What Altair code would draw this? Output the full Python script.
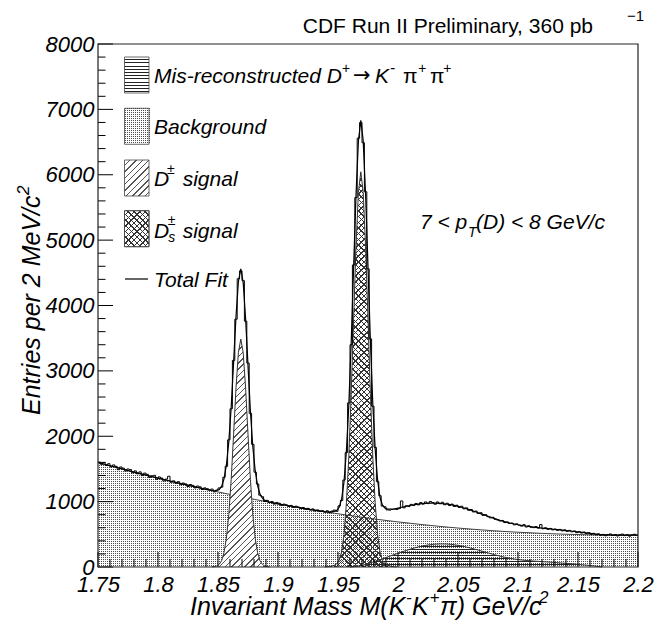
import altair as alt
import pandas as pd

# ---------------- data ----------------
# observed entries per 2 MeV/c^2 bin; first bin starts at 1.750 GeV/c^2
hist_start = 1.750
hist_step = 0.002
hist_counts = [
    1605, 1570, 1598, 1552, 1580, 1531, 1561, 1540, 1489, 1530,
    1512, 1468, 1499, 1490, 1440, 1470, 1425, 1455, 1398, 1436,
    1418, 1370, 1395, 1402, 1341, 1378, 1360, 1316, 1345, 1388,
    1296, 1318, 1280, 1305, 1259, 1284, 1271, 1232, 1262, 1248,
    1210, 1239, 1226, 1186, 1210, 1198, 1180,
    1192, 1150, 1178, 1209, 1221, 1372, 1540, 1945, 2420, 3160, 3790, 4410, 4530,
    4380, 3760, 3120, 2350, 1875, 1450, 1270, 1098, 1075, 1002, 1020, 985,
    1001, 962, 985, 975, 941, 962, 951, 925, 942, 910, 930, 918, 893, 910, 882,
    897, 871, 888, 858, 873, 848, 862,
    838, 860, 829, 855, 871, 852, 935, 1018, 1330, 1750, 2510, 3400, 4620, 5650, 6560,
    6800, 6490, 5740, 4560, 3490, 2460, 1830, 1305, 1090, 932, 921, 874, 870, 880, 882, 880,
    893, 1010, 905, 938, 925, 958, 940, 972, 950, 985,
    962, 995, 970, 1002, 985, 960, 995, 968, 990, 952,
    975, 940, 962, 925, 945, 912, 930, 890, 905, 868,
    880, 842, 855, 818, 830, 790, 800, 770, 752, 760,
    730, 720, 705, 712, 680, 690, 665, 672, 645, 660,
    640, 625, 648, 612, 630, 608, 602, 618, 595, 648,
    585, 600, 576, 590, 568, 580, 560, 575, 552, 568,
    545, 560, 538, 552, 525, 540, 520, 535, 512, 525,
    500, 515, 492, 508, 485, 498, 478, 495, 505, 482,
    496, 475, 492, 503, 480, 494, 472, 490, 501, 485,
]

# background component, every 10 MeV from 1.75
bg_start, bg_step = 1.75, 0.01
bg_vals = [1598, 1549, 1500, 1452, 1405, 1359, 1315, 1271, 1229, 1188,
           1148, 1110, 1072, 1036, 1001, 966, 933, 901, 871, 842,
           814, 787, 761, 736, 712, 690, 669, 649, 630, 612,
           596, 581, 567, 554, 542, 532, 523, 514, 507, 501,
           496, 492, 490, 489, 488, 489]

# mis-reconstructed D+ -> K- pi+ pi+, every 5 MeV from 1.960
mis_start, mis_step = 1.960, 0.005
mis_vals = [0, 8, 25, 50, 80, 112, 145, 178, 210, 242,
            272, 298, 320, 337, 348, 353, 352, 345, 332, 314,
            292, 268, 242, 216, 190, 166, 145, 128, 114, 103,
            95, 88, 82, 76, 70, 63, 56, 48, 40, 32,
            23, 12, 0]

# D+- signal, every 2 MeV from 1.845
dp_start, dp_step = 1.845, 0.002
dp_vals = [2, 6, 14, 40, 95, 220, 440, 800, 1340, 2030, 2740, 3280, 3486,
           3280, 2740, 2030, 1340, 800, 440, 220, 95, 40, 14, 6, 2]

# Ds+- signal, every 2 MeV from 1.939
ds_start, ds_step = 1.939, 0.002
ds_vals = [2, 4, 8, 15, 28, 50, 105, 230, 500, 980, 1680, 2650, 3790, 4900, 5730, 6045,
           5730, 4900, 3790, 2650, 1680, 980, 500, 230, 105, 50, 28, 15, 8, 4, 2]

# total fit, read in segments
fit_seg_a = [1598, 1549, 1500, 1452, 1405, 1359, 1315, 1271, 1229, 1188]           # 1.75..1.84 /0.01
fit_seg_b = [1170, 1166, 1166, 1184, 1232, 1349, 1561, 1914, 2446, 3129, 3831, 4364, 4562,
             4349, 3802, 3084, 2387, 1840, 1473, 1246, 1114, 1052, 1019, 1004, 993]  # 1.845../0.002
fit_seg_c = [966, 933, 901, 871]                                                    # 1.90..1.93 /0.01
fit_seg_d = [847, 843, 842, 843, 850, 867, 916, 1036, 1300, 1775, 2470, 3436, 4574, 5682,
             6514, 6831, 6524, 5694, 4589, 3456, 2493, 1800, 1328, 1066, 949, 902, 890,
             885, 887, 891, 898]                                                    # 1.939../0.002
fit_seg_e = [922, 941, 957, 969, 977, 978, 974, 964, 949, 928,
             903, 873, 842, 809, 777, 744, 714, 687, 665, 646,
             631, 618, 607, 596, 587, 577, 567, 557, 547, 536,
             526, 515, 503, 490, 490, 489, 489, 488, 488, 489]                      # 2.005../0.005

x_major = [1.75, 1.8, 1.85, 1.9, 1.95, 2.0, 2.05, 2.1, 2.15, 2.2]
y_major = [0, 1000, 2000, 3000, 4000, 5000, 6000, 7000, 8000]

# ---------------- tables ----------------
def grid(start, step, vals):
    return pd.DataFrame({"m": [round(start + step * k, 4) for k in range(len(vals))], "v": vals})

hist_df = pd.DataFrame({
    "m": [round(hist_start + hist_step * k, 4) for k in range(len(hist_counts))] + [2.2],
    "v": hist_counts + [hist_counts[-1]],
})
bg_df = grid(bg_start, bg_step, bg_vals)
mis_df = grid(mis_start, mis_step, mis_vals)
dp_df = grid(dp_start, dp_step, dp_vals)
ds_df = grid(ds_start, ds_step, ds_vals)
fit_df = pd.concat([
    grid(1.75, 0.01, fit_seg_a), grid(1.845, 0.002, fit_seg_b), grid(1.90, 0.01, fit_seg_c),
    grid(1.939, 0.002, fit_seg_d), grid(2.005, 0.005, fit_seg_e)], ignore_index=True)

x_minor = [round(1.75 + 0.01 * k, 2) for k in range(46) if k % 5]
y_minor = [200 * k for k in range(41) if k % 5]

# ---------------- styling helpers ----------------
W, H = 540, 523
XMIN, XMAX, YMAX = 1.75, 2.2, 8000
FONT = "Liberation Sans"
CLEAR = "rgba(0,0,0,0)"


def hatch(period, lw, span, color, base, x1, y1, x2, y2):
    stops = []
    k = 0
    while k * period < span - 1e-9:
        a = k * period / span
        b = min((k * period + period - lw) / span, 1.0)
        c = min((k + 1) * period / span, 1.0)
        stops += [{"offset": round(a, 6), "color": base}, {"offset": round(b, 6), "color": base},
                  {"offset": round(b, 6), "color": color}, {"offset": round(c, 6), "color": color}]
        k += 1
    return {"gradient": "linear", "x1": x1, "y1": y1, "x2": x2, "y2": y2, "stops": stops}


def diag(w, h, period, lw, color, base, slash=True):
    r = w / h
    dy = (1 + r) / (1 + r * r)
    dx = r * dy
    span = (w + h) / 2 ** 0.5
    if slash:
        return hatch(period, lw, span, color, base, 0, 0, round(dx, 5), round(dy, 5))
    return hatch(period, lw, span, color, base, 0, 1, round(dx, 5), round(1 - dy, 5))


def horiz(h, period, lw, color, base):
    return hatch(period, lw, h, color, base, 0, 0, 0, 1)


def vert(w, period, lw, color, base):
    return hatch(period, lw, w, color, base, 0, 0, 1, 0)


def px_w(df):
    return (df["m"].max() - df["m"].min()) / (XMAX - XMIN) * W


def px_h(df):
    return df["v"].max() / YMAX * H


DOT = "#4a4a4a"
xs = alt.Scale(domain=[XMIN, XMAX], nice=False, zero=False)
ys = alt.Scale(domain=[0, YMAX], nice=False, zero=True)
xaxis = alt.Axis(values=x_major, format="~g", title=None, ticks=False, tickSize=0, domain=False,
                 grid=False, labelFont=FONT, labelFontSize=22, labelFontStyle="italic",
                 labelColor="black", labelPadding=7, labelFlush=False, labelOverlap=False)
yaxis = alt.Axis(values=y_major, format="d", title=None, ticks=False, tickSize=0, domain=False,
                 grid=False, labelFont=FONT, labelFontSize=22, labelFontStyle="italic",
                 labelColor="black", labelPadding=4, labelOverlap=False)


def X(f):
    return alt.X(f, type="quantitative", scale=xs, axis=xaxis)


def Y(f):
    return alt.Y(f, type="quantitative", scale=ys, axis=yaxis)


one = pd.DataFrame({"k": [0]})


def T(text, x, y, size=21, italic=True, align="left", angle=0, font=FONT):
    kw = dict(text=text, font=font, fontSize=size, fontStyle="italic" if italic else "normal",
              align=align, baseline="alphabetic", color="black")
    if angle:
        kw["angle"] = angle
    return alt.Chart(one).mark_text(**kw).encode(x=alt.value(x), y=alt.value(y))


def swatch(x0, x1, y0, y1, fill, stroke=True):
    kw = dict(fill=fill)
    if stroke:
        kw.update(stroke="#444", strokeWidth=0.8)
    else:
        kw.update(strokeWidth=0)
    return alt.Chart(one).mark_rect(**kw).encode(
        x=alt.value(x0), x2=alt.value(x1), y=alt.value(y0), y2=alt.value(y1))


layers = []
# background: dotted pattern = dark columns masked by white rows
bg_w, bg_h = px_w(bg_df), px_h(bg_df)
layers.append(alt.Chart(bg_df).mark_area(color=vert(bg_w, 2, 1, DOT, "#ffffff"), opacity=1)
              .encode(x=X("m"), y=Y("v")))
layers.append(alt.Chart(bg_df).mark_area(color=horiz(bg_h, 2, 1, "#ffffff", CLEAR), opacity=1,
              line={"color": "#444", "strokeWidth": 1}).encode(x=X("m"), y=Y("v")))
# mis-reconstructed (horizontal lines)
layers.append(alt.Chart(mis_df).mark_area(color=horiz(px_h(mis_df), 3, 1, "#222", CLEAR), opacity=1,
              line={"color": "#333", "strokeWidth": 1}).encode(x=X("m"), y=Y("v")))
# D+- (single hatch)
layers.append(alt.Chart(dp_df).mark_area(color=diag(px_w(dp_df), px_h(dp_df), 4.5, 1, "#555", "#ffffff"),
              opacity=1, line={"color": "#333", "strokeWidth": 1}).encode(x=X("m"), y=Y("v")))
# Ds+- (cross hatch)
layers.append(alt.Chart(ds_df).mark_area(color=diag(px_w(ds_df), px_h(ds_df), 4, 1, "#333", CLEAR),
              opacity=1).encode(x=X("m"), y=Y("v")))
layers.append(alt.Chart(ds_df).mark_area(color=diag(px_w(ds_df), px_h(ds_df), 4, 1, "#333", CLEAR, slash=False),
              opacity=1, line={"color": "#333", "strokeWidth": 1}).encode(x=X("m"), y=Y("v")))
# total fit
layers.append(alt.Chart(fit_df).mark_line(color="black", strokeWidth=1.2).encode(x=X("m"), y=Y("v")))
# data histogram
layers.append(alt.Chart(hist_df).mark_line(color="black", strokeWidth=1, interpolate="step-after")
              .encode(x=X("m"), y=Y("v")))

# ticks (inside the frame)
layers.append(alt.Chart(pd.DataFrame({"t": x_major})).mark_rule(color="black", strokeWidth=1)
              .encode(x=X("t"), y=alt.value(H), y2=alt.value(H - 15)))
layers.append(alt.Chart(pd.DataFrame({"t": x_minor})).mark_rule(color="black", strokeWidth=1)
              .encode(x=X("t"), y=alt.value(H), y2=alt.value(H - 8)))
layers.append(alt.Chart(pd.DataFrame({"t": y_major})).mark_rule(color="black", strokeWidth=1)
              .encode(y=Y("t"), x=alt.value(0), x2=alt.value(15)))
layers.append(alt.Chart(pd.DataFrame({"t": y_minor})).mark_rule(color="black", strokeWidth=1)
              .encode(y=Y("t"), x=alt.value(0), x2=alt.value(7.5)))
# frame
layers.append(alt.Chart(one).mark_rect(fillOpacity=0, stroke="#222", strokeWidth=1.2).encode(
    x=alt.value(0), x2=alt.value(W), y=alt.value(0), y2=alt.value(H)))

# legend
sw_w, sw_h = 24.5, 36
layers.append(swatch(26.5, 51, 13, 49, horiz(sw_h, 3.2, 1, "#222", "#ffffff")))
layers.append(swatch(26, 52, 64, 100, vert(26, 2, 1, DOT, "#ffffff"), stroke=False))
layers.append(swatch(26, 52, 64, 100, horiz(36, 2, 1, "#ffffff", CLEAR), stroke=False))
layers.append(swatch(26.5, 51, 64.3, 100.3, CLEAR))
layers.append(swatch(26.5, 51, 116, 152, diag(sw_w, sw_h, 4.5, 1, "#555", "#ffffff")))
layers.append(swatch(26.5, 51, 166.7, 202.7, diag(sw_w, sw_h, 4, 1, "#333", "#ffffff")))
layers.append(swatch(26.5, 51, 166.7, 202.7, diag(sw_w, sw_h, 4, 1, "#333", CLEAR, slash=False)))
layers.append(alt.Chart(one).mark_rule(color="black", strokeWidth=1.2).encode(
    x=alt.value(27), x2=alt.value(50), y=alt.value(235)))

layers += [
    T("Mis-reconstructed D", 56, 39),
    T("+", 243.7, 29, size=14),
    T("→", 255, 38, italic=False, font="DejaVu Sans"),
    T("K", 277, 39),
    T("-", 292, 29, size=15),
    T("π", 305, 39, italic=False),
    T("+", 320, 29, size=14),
    T("π", 332, 39, italic=False),
    T("+", 345, 29, size=14),
    T("Background", 56, 89.5),
    T("D", 56, 141.5),
    T("±", 69, 129.5, size=14),
    T("signal", 84.7, 141.5),
    T("D", 56, 193.5),
    T("±", 69.7, 180.5, size=14),
    T("s", 70.3, 197.7, size=14),
    T("signal", 84.7, 193.5),
    T("Total Fit", 56, 242.8),
    # annotation
    T("7 < p", 322, 185),
    T("T", 370, 193, size=14),
    T("(D) < 8 GeV/c", 378, 185),
    # header
    T("CDF Run II Preliminary, 360 pb", 495, -11, italic=False, align="right"),
    T("−1", 529, -23, size=15, italic=False),
    # x axis title
    T("Invariant Mass M(K", 92, 571, size=25),
    T("-", 308, 559, size=17),
    T("K", 314, 571, size=25),
    T("+", 331.5, 559, size=17),
    T("π) GeV/c", 342, 571, size=25),
    T("2", 441, 559, size=17),
    # y axis title (reads bottom to top)
    T("Entries per 2 MeV/c", -58, 371, size=25, angle=270),
    T("2", -69, 151, size=17, angle=270),
]

chart = alt.layer(*layers).properties(
    width=W, height=H,
    padding={"left": 98, "top": 44, "right": 656 - 98 - W, "bottom": 624 - 44 - H},
    autosize=alt.AutoSizeParams(type="none"),
    background="white",
).configure_view(stroke=None)

chart.save("out.html", embed_options={"renderer": "svg", "actions": False})
